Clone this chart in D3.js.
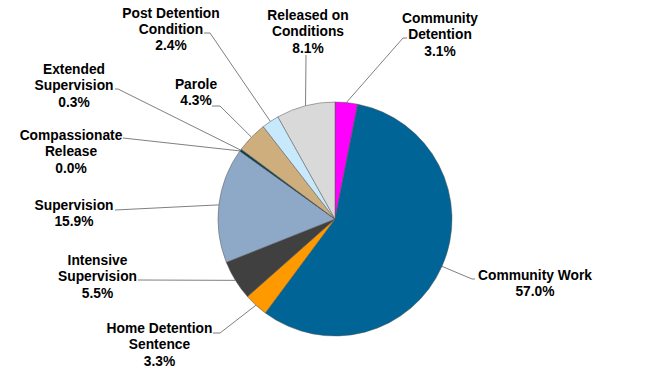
<!DOCTYPE html>
<html><head><meta charset="utf-8">
<script src="https://cdn.jsdelivr.net/npm/d3@7"></script>
<style>body{margin:0;background:#fff}svg{display:block}</style>
</head><body>
<svg id="chart" width="650" height="377"></svg>
<script>
const categories = ["Community Detention","Community Work","Home Detention Sentence","Intensive Supervision","Supervision","Compassionate Release","Extended Supervision","Parole","Post Detention Condition","Released on Conditions"];
const values = [3.1, 57.0, 3.3, 5.5, 15.9, 0.0, 0.3, 4.3, 2.4, 8.1];
const labelLines = [["Community","Detention"],["Community Work"],["Home Detention","Sentence"],["Intensive","Supervision"],["Supervision"],["Compassionate","Release"],["Extended","Supervision"],["Parole"],["Post Detention","Condition"],["Released on","Conditions"]];
const colors = ["#FF00FF","#006496","#FF9900","#404040","#8EA9C8","#1F4E5F","#00404F","#CFAE7E","#C8E9FB","#D9D9D9"];

// label layout: text centre x, first-line middle y, elbow point, end of short horizontal stub
const labelLayout = [
  {x:440, y:18, ex:403, ey:38, sx:407},
  {x:535, y:275, ex:472, ey:279, sx:475},
  {x:159.5, y:328, ex:220, ey:333, sx:213},
  {x:97.5, y:260, ex:138, ey:280, sx:138},
  {x:74, y:205, ex:115, ey:210, sx:115},
  {x:71, y:135, ex:123, ey:138, sx:123},
  {x:74, y:69, ex:118, ey:89, sx:115},
  {x:196, y:84, ex:220, ey:106, sx:212},
  {x:171, y:12.7, ex:210, ey:33, sx:204},
  {x:308, y:15, ex:306, ey:55, sx:306}
];

const svg = d3.select("#chart");
const cx = 335, cy = 219, r = 117;
const g = svg.append("g").attr("transform", `translate(${cx},${cy})`);
const data = categories.map((c,i)=>({name:c, value:values[i], i}));
const pie = d3.pie().sort(null).value(d=>d.value).startAngle(0).endAngle(2*Math.PI);
const arcs = pie(data);
const arc = d3.arc().innerRadius(0).outerRadius(r);

g.selectAll("path.slice").data(arcs).enter().append("path")
  .attr("class","slice")
  .attr("d", arc)
  .attr("fill", d=>colors[d.data.i])
  .attr("stroke","#555")
  .attr("stroke-width",0.5);

// leader lines
arcs.forEach(d=>{
  const L = labelLayout[d.data.i];
  const a = (d.startAngle + d.endAngle)/2;
  const px = cx + r*Math.sin(a), py = cy - r*Math.cos(a);
  svg.append("polyline")
    .attr("points", `${px},${py} ${L.ex},${L.ey} ${L.sx},${L.ey}`)
    .attr("fill","none").attr("stroke","#7f7f7f").attr("stroke-width",1);
});

// labels
arcs.forEach(d=>{
  const i = d.data.i, L = labelLayout[i];
  const lines = labelLines[i].concat([values[i].toFixed(1)+"%"]);
  const t = svg.append("text")
    .attr("text-anchor","middle")
    .attr("font-family","'Liberation Sans', Arial, sans-serif")
    .attr("font-weight","bold")
    .attr("font-size","13.8px")
    .attr("fill","#000");
  lines.forEach((s,k)=>{
    t.append("tspan").attr("x",L.x).attr("y",L.y + 5 + k*16.3).text(s);
  });
});
</script>
</body></html>
